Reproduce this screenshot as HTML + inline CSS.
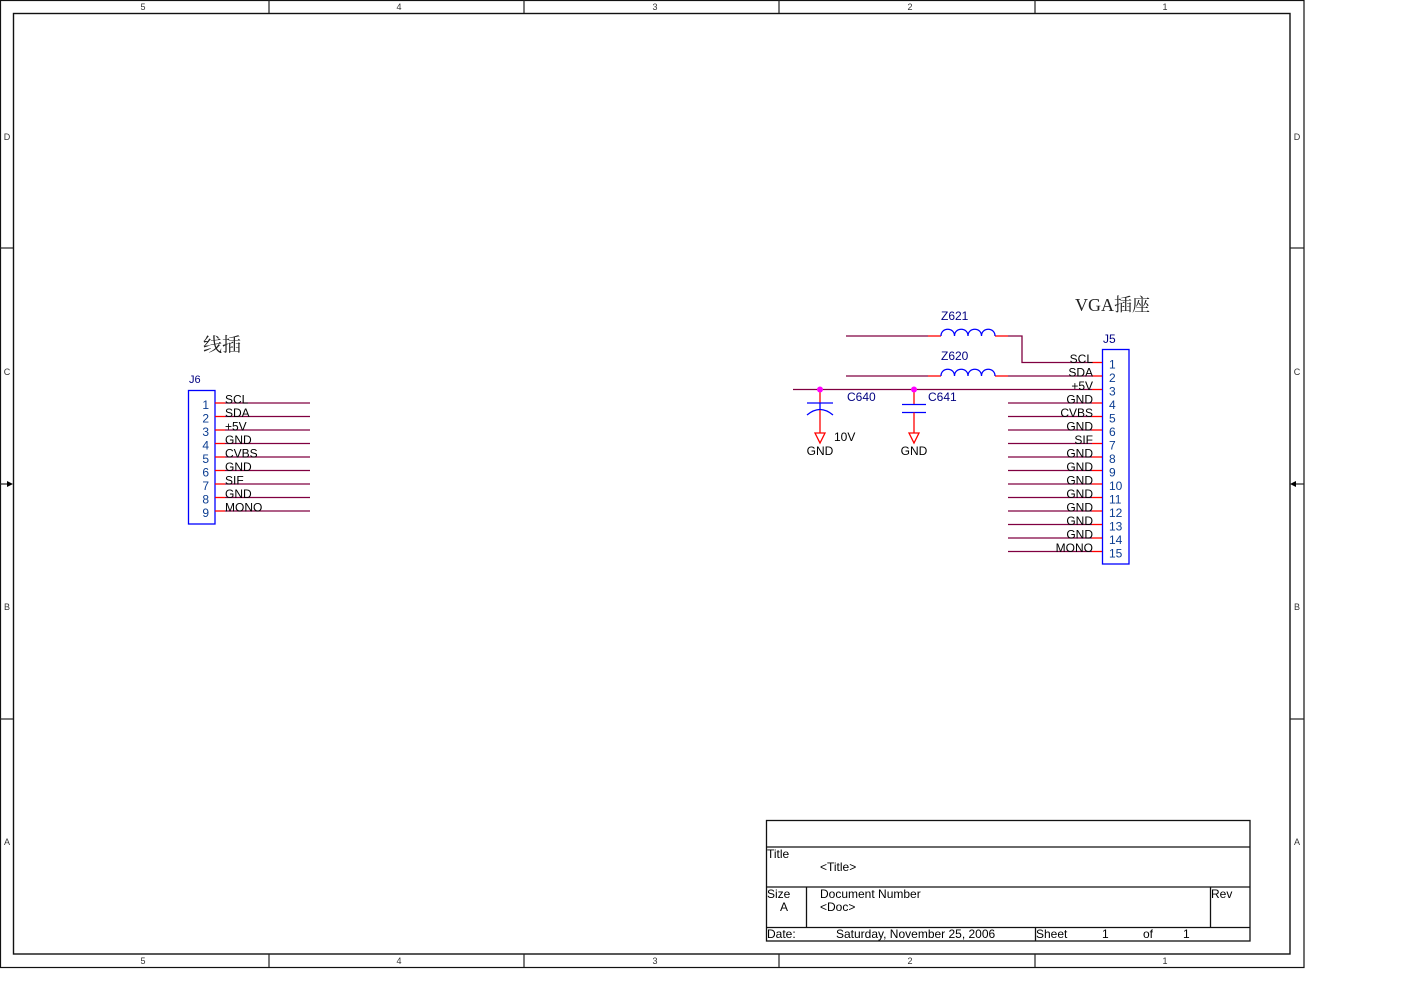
<!DOCTYPE html>
<html><head><meta charset="utf-8"><style>
html,body{margin:0;padding:0;background:#fff;}
svg{display:block;}
text{font-family:"Liberation Sans",sans-serif;}
</style></head><body>
<svg width="1404" height="993" viewBox="0 0 1404 993" xmlns="http://www.w3.org/2000/svg">
<rect x="0" y="0" width="1404" height="993" fill="#fff"/>
<!-- frame -->
<rect x="0.5" y="0.5" width="1303.5" height="967" fill="none" stroke="#111" stroke-width="1.2"/>
<rect x="13.5" y="13.5" width="1276.5" height="940.5" fill="none" stroke="#111" stroke-width="1.4"/>
<g stroke="#222" stroke-width="1.2">
<line x1="269" y1="0" x2="269" y2="13"/><line x1="524" y1="0" x2="524" y2="13"/><line x1="779" y1="0" x2="779" y2="13"/><line x1="1035" y1="0" x2="1035" y2="13"/>
<line x1="269" y1="954" x2="269" y2="967"/><line x1="524" y1="954" x2="524" y2="967"/><line x1="779" y1="954" x2="779" y2="967"/><line x1="1035" y1="954" x2="1035" y2="967"/>
<line x1="0" y1="248" x2="13" y2="248"/><line x1="0" y1="719" x2="13" y2="719"/>
<line x1="1290" y1="248" x2="1304" y2="248"/><line x1="1290" y1="719" x2="1304" y2="719"/>
<line x1="0" y1="484" x2="9" y2="484"/><line x1="1295" y1="484" x2="1304" y2="484"/>
</g>
<polygon points="13,484 7,481 7,487" fill="#000"/>
<polygon points="1290,484 1296,481 1296,487" fill="#000"/>
<g font-size="9" fill="#333" text-anchor="middle">
<text x="143" y="10">5</text><text x="399" y="10">4</text><text x="655" y="10">3</text><text x="910" y="10">2</text><text x="1165" y="10">1</text>
<text x="143" y="964">5</text><text x="399" y="964">4</text><text x="655" y="964">3</text><text x="910" y="964">2</text><text x="1165" y="964">1</text>
<text x="7" y="140">D</text><text x="7" y="375">C</text><text x="7" y="610">B</text><text x="7" y="845">A</text>
<text x="1297" y="140">D</text><text x="1297" y="375">C</text><text x="1297" y="610">B</text><text x="1297" y="845">A</text>
</g>

<!-- J6 -->
<text x="203" y="351" font-size="19" fill="#222" style="font-family:'Noto Serif CJK SC','Liberation Serif',serif">线插</text>
<text x="189" y="383" font-size="11" fill="#000080">J6</text>
<rect x="188.5" y="390.5" width="26.5" height="133.5" fill="none" stroke="#0000ff" stroke-width="1.3"/>
<g stroke-width="1.3">
<g stroke="#800040">
<line x1="225" y1="403" x2="310" y2="403"/><line x1="225" y1="416.5" x2="310" y2="416.5"/><line x1="225" y1="430" x2="310" y2="430"/>
<line x1="225" y1="443.5" x2="310" y2="443.5"/><line x1="225" y1="457" x2="310" y2="457"/><line x1="225" y1="470.5" x2="310" y2="470.5"/>
<line x1="225" y1="484" x2="310" y2="484"/><line x1="225" y1="497.5" x2="310" y2="497.5"/><line x1="225" y1="511" x2="310" y2="511"/>
</g>
<g stroke="#ff0000">
<line x1="215" y1="403" x2="225" y2="403"/><line x1="215" y1="416.5" x2="225" y2="416.5"/><line x1="215" y1="430" x2="225" y2="430"/>
<line x1="215" y1="443.5" x2="225" y2="443.5"/><line x1="215" y1="457" x2="225" y2="457"/><line x1="215" y1="470.5" x2="225" y2="470.5"/>
<line x1="215" y1="484" x2="225" y2="484"/><line x1="215" y1="497.5" x2="225" y2="497.5"/><line x1="215" y1="511" x2="225" y2="511"/>
</g>
</g>
<g font-size="12" fill="#0b3d91" text-anchor="end">
<text x="209" y="409">1</text><text x="209" y="422.5">2</text><text x="209" y="436">3</text><text x="209" y="449.5">4</text><text x="209" y="463">5</text><text x="209" y="476.5">6</text><text x="209" y="490">7</text><text x="209" y="503.5">8</text><text x="209" y="517">9</text>
</g>
<g font-size="12" fill="#000">
<text x="225" y="403.5">SCL</text><text x="225" y="417">SDA</text><text x="225" y="430.5">+5V</text><text x="225" y="444">GND</text><text x="225" y="457.5">CVBS</text><text x="225" y="471">GND</text><text x="225" y="484.5">SIF</text><text x="225" y="498">GND</text><text x="225" y="511.5">MONO</text>
</g>

<!-- Inductors & caps -->
<g stroke-width="1.3" fill="none">
<line x1="846" y1="336" x2="928" y2="336" stroke="#800040"/>
<line x1="928" y1="336" x2="941" y2="336" stroke="#ff0000"/>
<line x1="995" y1="336" x2="1008" y2="336" stroke="#ff0000"/>
<polyline points="1008,336 1022,336 1022,362.5 1092,362.5" stroke="#800040"/>
<line x1="846" y1="376" x2="928" y2="376" stroke="#800040"/>
<line x1="928" y1="376" x2="941" y2="376" stroke="#ff0000"/>
<line x1="995" y1="376" x2="1008" y2="376" stroke="#ff0000"/>
<line x1="1008" y1="376" x2="1092" y2="376" stroke="#800040"/>
<line x1="793" y1="389.5" x2="1092" y2="389.5" stroke="#800040"/>
<path d="M941,336 C941,327 954.5,327 954.5,336 C954.5,327 968,327 968,336 C968,327 981.5,327 981.5,336 C981.5,327 995,327 995,336" stroke="#0000ff"/>
<path d="M941,376 C941,367 954.5,367 954.5,376 C954.5,367 968,367 968,376 C968,367 981.5,367 981.5,376 C981.5,367 995,367 995,376" stroke="#0000ff"/>
<!-- C640 -->
<line x1="820" y1="389.5" x2="820" y2="403" stroke="#ff0000"/>
<line x1="820" y1="403" x2="820" y2="410" stroke="#0000ff"/>
<line x1="807" y1="403" x2="833" y2="403" stroke="#0000ff"/>
<path d="M807,415 Q820,404 833,415" stroke="#0000ff"/>
<line x1="820" y1="410" x2="820" y2="433" stroke="#ff0000"/>
<polygon points="815,433 825,433 820,443" stroke="#ff0000"/>
<!-- C641 -->
<line x1="914" y1="389.5" x2="914" y2="404.5" stroke="#ff0000"/>
<line x1="902" y1="404.5" x2="926" y2="404.5" stroke="#0000ff"/>
<line x1="902" y1="412.5" x2="926" y2="412.5" stroke="#0000ff"/>
<line x1="914" y1="412.5" x2="914" y2="433" stroke="#ff0000"/>
<polygon points="909,433 919,433 914,443" stroke="#ff0000"/>
</g>
<circle cx="820" cy="389.5" r="3" fill="#ff00ff"/>
<circle cx="914" cy="389.5" r="3" fill="#ff00ff"/>
<g font-size="12" fill="#000080">
<text x="941" y="320">Z621</text><text x="941" y="360">Z620</text>
<text x="847" y="401">C640</text><text x="928" y="401">C641</text>
<text x="1103" y="343">J5</text>
</g>
<g font-size="12" fill="#000">
<text x="834" y="441">10V</text>
<text x="820" y="455" text-anchor="middle">GND</text>
<text x="914" y="455" text-anchor="middle">GND</text>
</g>

<!-- J5 -->
<text x="1075" y="311" font-size="18" fill="#222" style="font-family:'Liberation Serif','Noto Serif CJK SC',serif">VGA插座</text>
<rect x="1102.5" y="349.5" width="26.5" height="214.5" fill="none" stroke="#0000ff" stroke-width="1.3"/>
<g stroke-width="1.3">
<g stroke="#800040">
<line x1="1008" y1="403" x2="1092" y2="403"/><line x1="1008" y1="416.5" x2="1092" y2="416.5"/><line x1="1008" y1="430" x2="1092" y2="430"/>
<line x1="1008" y1="443.5" x2="1092" y2="443.5"/><line x1="1008" y1="457" x2="1092" y2="457"/><line x1="1008" y1="470.5" x2="1092" y2="470.5"/>
<line x1="1008" y1="484" x2="1092" y2="484"/><line x1="1008" y1="497.5" x2="1092" y2="497.5"/><line x1="1008" y1="511" x2="1092" y2="511"/>
<line x1="1008" y1="524.5" x2="1092" y2="524.5"/><line x1="1008" y1="538" x2="1092" y2="538"/><line x1="1008" y1="551.5" x2="1092" y2="551.5"/>
</g>
<g stroke="#ff0000">
<line x1="1092" y1="362.5" x2="1102" y2="362.5"/><line x1="1092" y1="376" x2="1102" y2="376"/><line x1="1092" y1="389.5" x2="1102" y2="389.5"/>
<line x1="1092" y1="403" x2="1102" y2="403"/><line x1="1092" y1="416.5" x2="1102" y2="416.5"/><line x1="1092" y1="430" x2="1102" y2="430"/>
<line x1="1092" y1="443.5" x2="1102" y2="443.5"/><line x1="1092" y1="457" x2="1102" y2="457"/><line x1="1092" y1="470.5" x2="1102" y2="470.5"/>
<line x1="1092" y1="484" x2="1102" y2="484"/><line x1="1092" y1="497.5" x2="1102" y2="497.5"/><line x1="1092" y1="511" x2="1102" y2="511"/>
<line x1="1092" y1="524.5" x2="1102" y2="524.5"/><line x1="1092" y1="538" x2="1102" y2="538"/><line x1="1092" y1="551.5" x2="1102" y2="551.5"/>
</g>
</g>
<g font-size="12" fill="#0b3d91">
<text x="1109" y="368.5">1</text><text x="1109" y="382">2</text><text x="1109" y="395.5">3</text><text x="1109" y="409">4</text><text x="1109" y="422.5">5</text>
<text x="1109" y="436">6</text><text x="1109" y="449.5">7</text><text x="1109" y="463">8</text><text x="1109" y="476.5">9</text><text x="1109" y="490">10</text>
<text x="1109" y="503.5">11</text><text x="1109" y="517">12</text><text x="1109" y="530.5">13</text><text x="1109" y="544">14</text><text x="1109" y="557.5">15</text>
</g>
<g font-size="12" fill="#000" text-anchor="end">
<text x="1093" y="363">SCL</text><text x="1093" y="376.5">SDA</text><text x="1093" y="390">+5V</text><text x="1093" y="403.5">GND</text><text x="1093" y="417">CVBS</text>
<text x="1093" y="430.5">GND</text><text x="1093" y="444">SIF</text><text x="1093" y="457.5">GND</text><text x="1093" y="471">GND</text><text x="1093" y="484.5">GND</text>
<text x="1093" y="498">GND</text><text x="1093" y="511.5">GND</text><text x="1093" y="525">GND</text><text x="1093" y="538.5">GND</text><text x="1093" y="552">MONO</text>
</g>

<!-- Title block -->
<g stroke="#111" stroke-width="1.3" fill="none">
<rect x="766.5" y="820.5" width="483.5" height="120.5"/>
<line x1="766" y1="847" x2="1250" y2="847"/>
<line x1="766" y1="887" x2="1250" y2="887"/>
<line x1="766" y1="927.5" x2="1250" y2="927.5"/>
<line x1="806.5" y1="887" x2="806.5" y2="927.5"/>
<line x1="1210.5" y1="887" x2="1210.5" y2="927.5"/>
<line x1="1035.5" y1="927.5" x2="1035.5" y2="941"/>
</g>
<g font-size="12" fill="#000">
<text x="767" y="858">Title</text>
<text x="820" y="871">&lt;Title&gt;</text>
<text x="767" y="898">Size</text>
<text x="780" y="911">A</text>
<text x="820" y="898">Document Number</text>
<text x="820" y="911">&lt;Doc&gt;</text>
<text x="1211" y="898">Rev</text>
<text x="767" y="938">Date:</text>
<text x="836" y="938">Saturday, November 25, 2006</text>
<text x="1036" y="938">Sheet</text>
<text x="1102" y="938">1</text>
<text x="1143" y="938">of</text>
<text x="1183" y="938">1</text>
</g>
</svg>
</body></html>
